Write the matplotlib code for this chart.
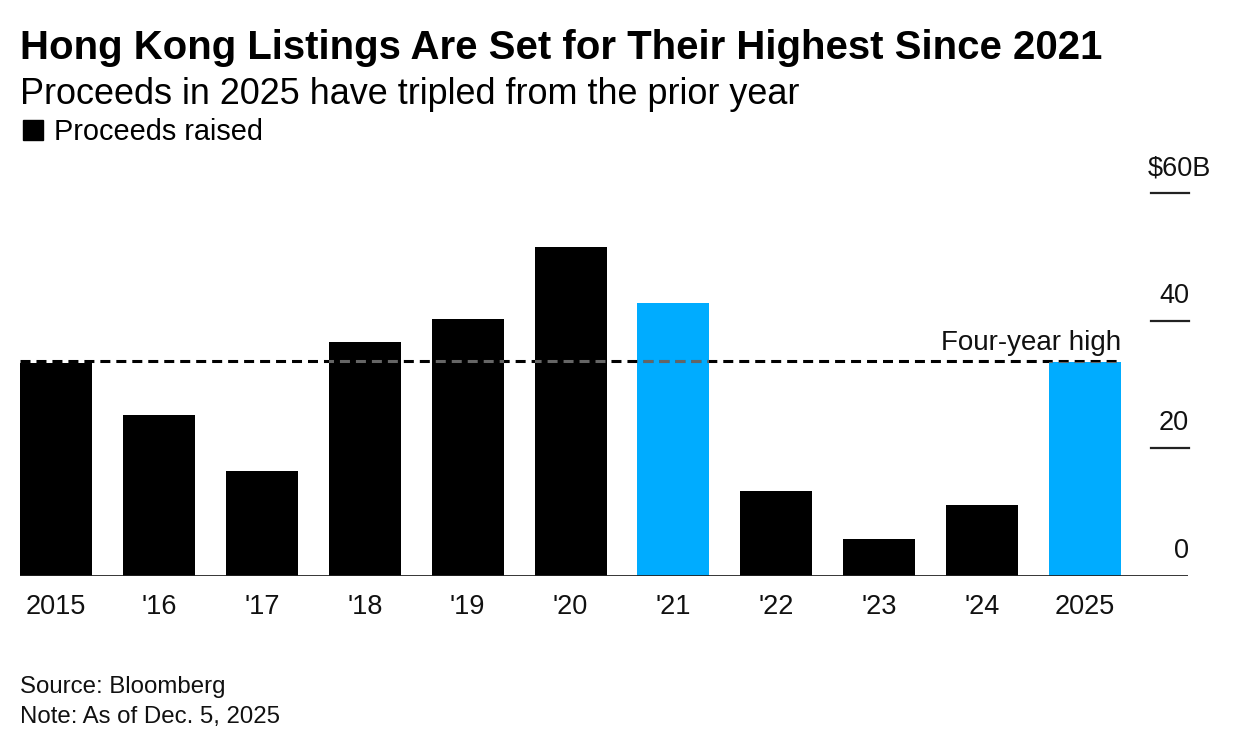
import matplotlib
matplotlib.use("Agg")
import matplotlib.pyplot as plt
from matplotlib.patches import Rectangle

plt.rcParams['font.family'] = ['Liberation Sans', 'DejaVu Sans']
plt.rcParams['lines.scale_dashes'] = False

# Data ($ billions)
years = ['2015', "'16", "'17", "'18", "'19", "'20", "'21", "'22", "'23", "'24", '2025']
proceeds = [33.3, 25.2, 16.4, 36.6, 40.3, 51.6, 42.8, 13.3, 5.8, 11.1, 33.6]
highlight = ["'21", '2025']
four_year_high = 33.75
y_ticks = [0, 20, 40, 60]
y_tick_labels = ['0', '20', '40', '$60B']

BLACK = '#000000'
BLUE = '#00ACFF'

W, H = 1236, 748
fig = plt.figure(figsize=(W / 100, H / 100), dpi=100)
ax = fig.add_axes([20 / W, (H - 576) / H, 1168 / W, 383 / H])

x = list(range(len(years)))
colors = [BLUE if y in highlight else BLACK for y in years]
bars = ax.bar(x, proceeds, width=0.7, color=colors, zorder=2)

ax.set_xlim(-0.35, 11.0)
ax.set_ylim(0, 60)

# four-year high reference line, lighter where it crosses the bars
line_x = [-0.35, len(years) - 1 + 0.35]
ax.plot(line_x, [four_year_high] * 2, color=BLACK, lw=2.2,
        dashes=(7.2, 4.3), zorder=3, dash_capstyle='butt')
for b in bars:
    ln, = ax.plot(line_x, [four_year_high] * 2, color=(1, 1, 1, 0.4), lw=2.2,
                  dashes=(7.2, 4.3), zorder=4, dash_capstyle='butt')
    ln.set_clip_path(b)
ax.text(10.35, four_year_high + 0.75, 'Four-year high', ha='right', va='bottom',
        fontsize=20, color='#111111')

# y ticks on the right: short lines with labels above
for v, lab in zip(y_ticks, y_tick_labels):
    if v > 0:
        ax.plot([10.64, 11.01], [v, v], color='#222222', lw=1.6, clip_on=False, zorder=3)
    if lab.startswith('$'):
        ax.text(10.92, v + 3.9, lab, ha='center', va='center', fontsize=19.5, color='#111111')
    else:
        ax.text(11.01, v + 3.9, lab, ha='right', va='center', fontsize=19.5, color='#111111')

ax.axhline(0, color='#222222', lw=2, zorder=5)

ax.set_xticks(x)
ax.set_xticklabels(years, fontsize=19.5, color='#111111')
ax.tick_params(axis='x', length=0, pad=13)
ax.set_yticks([])
for s in ax.spines.values():
    s.set_visible(False)

# titles
fig.text(20 / W, 1 - 48 / H, 'Hong Kong Listings Are Set for Their Highest Since 2021',
         fontsize=28.9, fontweight='bold', va='center', ha='left')
fig.text(20 / W, 1 - 95 / H, 'Proceeds in 2025 have tripled from the prior year',
         fontsize=25.9, va='center', ha='left')
fig.patches.append(Rectangle((23 / W, 1 - 140 / H), 20 / W, 20 / H,
                             transform=fig.transFigure, color=BLACK, figure=fig))
fig.text(54 / W, 1 - 132 / H, 'Proceeds raised', fontsize=20.8, va='center', ha='left')

# footer
fig.text(20 / W, 1 - 687 / H, 'Source: Bloomberg', fontsize=17.3, va='center', ha='left',
         color='#111111')
fig.text(20 / W, 1 - 717 / H, 'Note: As of Dec. 5, 2025', fontsize=17.3, va='center',
         ha='left', color='#111111')

fig.savefig('out.png', dpi=100)
